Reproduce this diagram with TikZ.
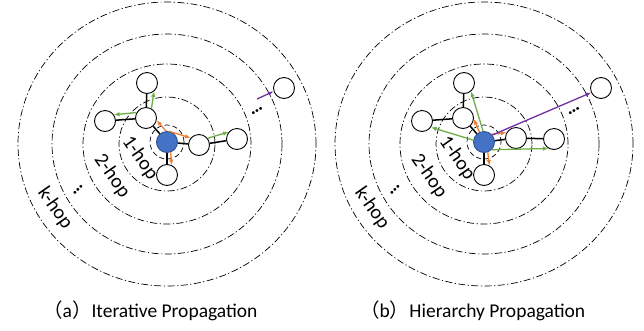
\documentclass[tikz,border=0pt]{standalone}
\usepackage{fontspec}
\setmainfont{Carlito}
\newfontfamily\cjk{Noto Sans CJK SC}
\usetikzlibrary{arrows.meta}
\definecolor{nodeblue}{HTML}{4472C4}
\definecolor{nodeline}{HTML}{2F528F}
\definecolor{arrorange}{HTML}{ED7D31}
\definecolor{arrgreen}{HTML}{70AD47}
\definecolor{arrpurple}{HTML}{7030A0}
\tikzset{
  vnode/.style={circle,draw,line width=0.9pt,fill=white,minimum size=21pt,inner sep=0pt},
  srcnode/.style={vnode,fill=nodeblue,draw=nodeline},
  ring/.style={line width=0.7pt,dash pattern=on 7pt off 2.5pt on 1.2pt off 2.5pt},
  link/.style={line width=1.5pt},
  flow/.style={line width=1.3pt,-{Latex[length=5.5pt,width=4.5pt]}},
  hop/.style={font=\fontsize{20}{20}\selectfont,rotate=-55,inner sep=0pt},
  dots/.style={font=\fontsize{19}{19}\selectfont\bfseries,inner sep=0pt},
}
\begin{document}
\begin{tikzpicture}[x=1pt,y=-1pt]
  \useasboundingbox (0,0) rectangle (644,330);

  \foreach \p/\cx/\dy/\cap in {a/167/3/Iterative, b/484/-4/Hierarchy} {
    \begin{scope}[shift={(\cx,142)}]
      % hop rings
      \draw[line width=0.7pt,dash pattern=on 5pt off 3pt] (0,0) circle [radius=17pt];
      \foreach \rx/\ry in {48/47,84/80,115/110,149/142}
        \draw[ring] (0,2) ellipse [x radius=\rx pt,y radius=\ry pt];

      \node[srcnode] (\p O) at (0,0) {};
      \node[vnode] (\p A) at (-21,-24) {};
      \node[vnode] (\p B) at (-20,-59) {};
      \node[vnode] (\p C) at (-62,-21) {};
      \node[vnode] (\p D) at (32,\dy) {};
      \node[vnode] (\p E) at (70,-3) {};
      \node[vnode] (\p F) at (0,33) {};
      \node[vnode] (\p G) at (117,-54) {};
      \draw[link] (\p O) -- (\p A) -- (\p B);
      \draw[link] (\p A) -- (\p C);
      \draw[link] (\p O) -- (\p D) -- (\p E);
      \draw[link] (\p O) -- (\p F);

      \node[hop] (\p h1) at (-27,16) {1-hop};
      \node[hop] (\p h2) at (-55,34) {2-hop};
      \node[hop] (\p hk) at (-112,66) {k-hop};
      \node[dots,rotate=30] (\p d1) at (90,-31) {…};
      \node[dots,rotate=45] (\p d2) at (-89,48) {…};
    \end{scope}
    \node[anchor=base west,inner sep=0pt,font=\fontsize{19.5}{20}\selectfont] (\p cap)
      at (\cx-124,317) {{\cjk （}\p{\cjk ）}\cap{} Propagation};
  }

  % (a) one hop per step
  \coordinate (aP) at (257,99);
  \draw[flow,arrorange] (aO.95) -- (aA.-12);
  \draw[flow,arrorange] (aO.80) -- (aD.140);
  \draw[flow,arrorange] (aO.-70) -- (aF.65);
  \draw[flow,arrgreen] (aA.60) -- (aB.-50);
  \draw[flow,arrgreen] (aA.150) -- (aC.35);
  \draw[flow,arrgreen] (aD.38) -- (aE.140);
  \draw[flow,arrpurple] (aP) -- (aG.198);

  % (b) every hop from the centre
  \draw[flow,arrorange] (bO.115) -- (bA.-5);
  \draw[flow,arrorange] (bO.45) -- (bD.150);
  \draw[flow,arrorange] (bO.-70) -- (bF.60);
  \draw[flow,arrgreen] (bO.95) -- (bB.-50);
  \draw[flow,arrgreen] (bO.170) -- (bC.-35);
  \draw[flow,arrgreen] (bO.-45) -- (bE.-120);
  \draw[flow,arrpurple] (bO.40) -- (bG.205);
\end{tikzpicture}
\end{document}
